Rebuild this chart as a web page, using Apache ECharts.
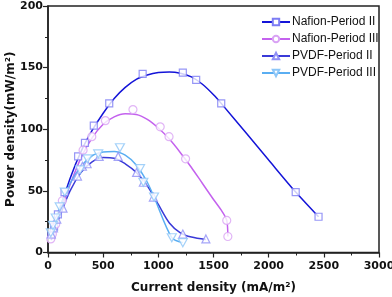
<!DOCTYPE html>
<html><head><meta charset="utf-8">
<script src="https://cdn.jsdelivr.net/npm/echarts@6/dist/echarts.min.js"></script>
<style>html,body{margin:0;padding:0;background:#fff}#c{width:392px;height:297px}</style>
</head><body><div id="c"></div>
<script>
var seriesNames = ['Nafion-Period II','Nafion-Period III','PVDF-Period II','PVDF-Period III'];
// measured points (markers)
var nafionII = [[30,14],[55,21],[90,31],[150,49],[273,78],[335,89],[415,103],[555,121],[858,145],[1222,146],[1343,140],[1570,121],[2245,49],[2452,29]];
var nafionIII = [[25,11],[40,15],[70,23],[130,42],[318,83],[397,94],[520,107],[770,116],[1017,102],[1097,94],[1247,76],[1620,26],[1630,13]];
var pvdfII = [[30,15],[50,20],[80,27],[136,36],[267,62],[312,70],[355,72],[464,78],[636,78],[803,65],[864,57],[955,45],[1222,15],[1431,11]];
var pvdfIII = [[25,16],[45,22],[70,28],[106,37],[152,49],[290,67],[358,76],[455,80],[652,85],[834,68],[864,57],[961,45],[1122,12],[1222,8]];
// fitted curves
var nafionIIFit = [[30,10],[100,33],[200,60],[300,82],[400,99],[500,113],[600,125],[700,134],[800,140.5],[900,144],[1000,146],[1100,146.5],[1200,145.5],[1300,142.5],[1400,136.5],[1500,128],[1570,121],[1800,96.5],[2000,75],[2245,49],[2452,29]];
var nafionIIIFit = [[30,11],[100,30],[200,55],[300,77],[400,93],[500,104],[600,110],[700,112.5],[800,112],[900,108],[1000,101],[1100,92],[1200,81],[1300,69],[1400,56],[1500,43],[1580,33],[1620,26],[1630,13]];
var pvdfIIFit = [[30,12],[100,28],[200,50],[300,65],[400,73.5],[500,77],[600,76.5],[700,72],[800,65],[900,54],[1000,39],[1100,24],[1200,16],[1300,12.5],[1431,10.5]];
var pvdfIIIFit = [[25,14],[100,35],[200,56],[300,70],[400,78.5],[500,81.5],[600,82],[700,79],[800,71],[900,57],[961,45],[1122,12],[1222,8]];
var xTicks = [0,500,1000,1500,2000,2500,3000];
var yTicks = [0,50,100,150,200];

var lineColors = ['#1414d8','#c462ee','#3a3ad8','#5aaef2'];
var markColors = ['#7c7cf4','#d9a2f4','#9090f6','#8cc6f8'];
var symbols = ['rect','circle','triangle','path://M0,0 L10,0 L5,9 Z'];
var sizes = [7,8,8,[9,8]];
var points = [nafionII, nafionIII, pvdfII, pvdfIII];
var fits = [nafionIIFit, nafionIIIFit, pvdfIIFit, pvdfIIIFit];

var chart = echarts.init(document.getElementById('c'), null, {renderer:'canvas'});
var tickFont = {fontFamily:'DejaVu Sans', fontWeight:'bold', fontSize:11, color:'#111'};
var series = [];
fits.forEach(function(d,i){
  series.push({
    name: seriesNames[i], type:'line', data:d, smooth:0.3,
    symbol: symbols[i], symbolSize: sizes[i], showSymbol:false,
    itemStyle:{color:'#fff', borderColor:markColors[i], borderWidth:1.2},
    lineStyle:{color:lineColors[i], width:1.5},
    z: 2
  });
});
points.forEach(function(d,i){
  series.push({
    name: seriesNames[i] + ' data', type:'scatter', data:d,
    symbol: symbols[i], symbolSize: sizes[i],
    itemStyle:{color:'#fff', borderColor:markColors[i], borderWidth:1.2},
    z: 5
  });
});
chart.setOption({
  animation:false,
  grid:{left:48, right:13, top:6, bottom:44.5, show:true, borderColor:'#222', borderWidth:1.5, outerBoundsMode:'none', containLabel:false},
  legend:{
    data: seriesNames,
    orient:'vertical', left:261, top:16, itemWidth:28, itemHeight:8, itemGap:5,
    textStyle:{fontFamily:'Liberation Sans', fontSize:12, color:'#111', padding:[0,0,0,-3]},
    padding:0
  },
  xAxis:{
    type:'value', min:xTicks[0], max:xTicks[xTicks.length-1], interval:500,
    name:'Current density (mA/m²)', nameLocation:'middle', nameGap:29, nameMoveOverlap:false,
    nameTextStyle:{fontFamily:'DejaVu Sans', fontWeight:'bold', fontSize:12, color:'#111'},
    axisLine:{lineStyle:{color:'#222', width:1.5}},
    axisTick:{inside:false, length:5, lineStyle:{color:'#222', width:1.2}},
    minorTick:{show:true, splitNumber:2, length:3, lineStyle:{color:'#222', width:1}},
    axisLabel:Object.assign({margin:8, formatter:function(v){return String(v);}}, tickFont),
    splitLine:{show:false}
  },
  yAxis:{
    type:'value', min:yTicks[0], max:yTicks[yTicks.length-1], interval:50,
    name:'Power density(mW/m²)', nameLocation:'middle', nameGap:31, nameMoveOverlap:false,
    nameTextStyle:{fontFamily:'DejaVu Sans', fontWeight:'bold', fontSize:12, color:'#111'},
    axisLine:{lineStyle:{color:'#222', width:1.5}},
    axisTick:{inside:false, length:5, lineStyle:{color:'#222', width:1.2}},
    minorTick:{show:true, splitNumber:2, length:3, lineStyle:{color:'#222', width:1}},
    axisLabel:Object.assign({margin:5, formatter:function(v){return String(v);}}, tickFont),
    splitLine:{show:false}
  },
  series: series
});
</script></body></html>
